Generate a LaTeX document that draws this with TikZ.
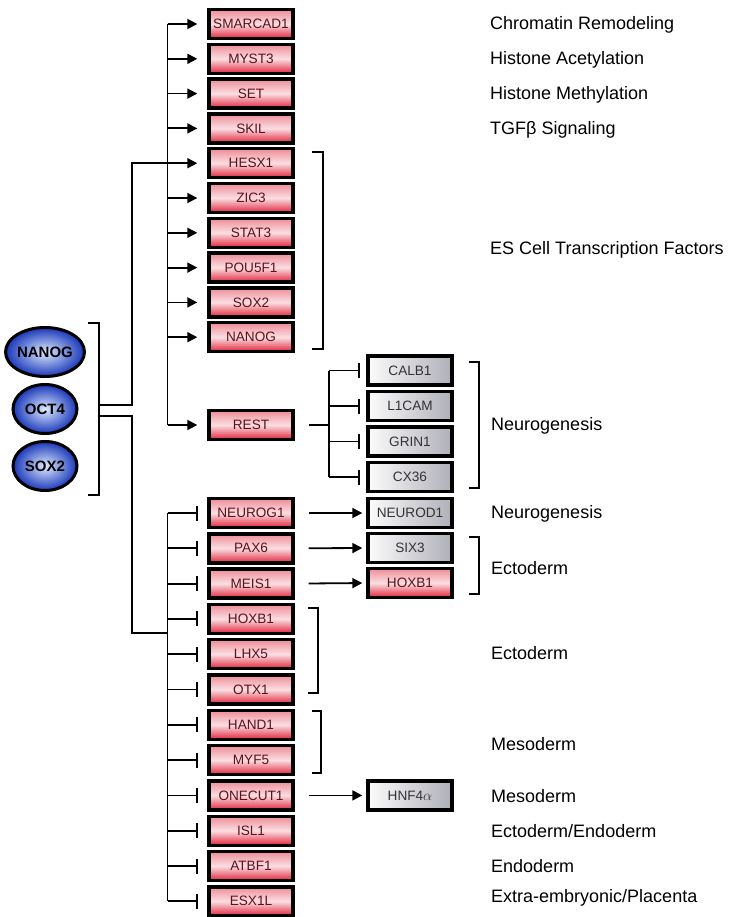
\documentclass[tikz,border=0pt]{standalone}
\usepackage{fontspec}
\setmainfont{Liberation Sans}
\usetikzlibrary{arrows.meta,shapes.geometric,calc}
\definecolor{redtop}{RGB}{238,140,150}
\definecolor{redmid}{RGB}{250,222,226}
\definecolor{redbot}{RGB}{226,36,58}
\definecolor{redtxt}{RGB}{90,18,28}
\definecolor{graylt}{RGB}{252,252,252}
\definecolor{graydk}{RGB}{175,175,184}
\definecolor{bluelt}{RGB}{222,234,255}
\definecolor{bluedk}{RGB}{25,55,185}
\tikzset{
  redbox/.style={draw=black, line width=3.4pt, minimum width=84pt, minimum height=29pt, inner sep=0pt,
    top color=redtop, bottom color=redbot, middle color=redmid,
    font=\fontsize{13.6}{15}\selectfont, text=redtxt},
  graybox/.style={draw=black, line width=3.4pt, minimum width=84pt, minimum height=29pt, inner sep=0pt,
    left color=graylt, right color=graydk, font=\fontsize{13.6}{15}\selectfont, text=black!80},
  tf/.style={ellipse, draw=black, line width=3pt, minimum width=64pt, minimum height=49pt, inner sep=0pt,
    inner color=bluelt, outer color=bluedk, font=\bfseries\fontsize{15}{17}\selectfont},
  lab/.style={anchor=west, font=\fontsize{18}{20}\selectfont, inner sep=0pt},
  conn/.style={line width=1.8pt},
  act/.style={conn, -{Triangle[length=10pt,width=10pt]}},
  inh/.style={conn, -{Bar[width=15pt,line width=2.2pt]}},
  brk/.style={line width=1.6pt},
}
\begin{document}
\begin{tikzpicture}[x=1pt,y=-1pt]
\useasboundingbox (0,0) rectangle (728,917);
% transcription factors
\node[tf] (nanog) at (45,352) {NANOG};
\node[tf] (oct4) at (45,409) {OCT4};
\node[tf] (sox2) at (45,466) {SOX2};
% upper red boxes
\node[redbox] (smarcad) at (251,24) {SMARCAD1};
\node[redbox] (myst) at (251,58.8) {MYST3};
\node[redbox] (set) at (251,93.6) {SET};
\node[redbox] (skil) at (251,128.4) {SKIL};
\node[redbox] (hesx) at (251,163.2) {HESX1};
\node[redbox] (zic) at (251,198) {ZIC3};
\node[redbox] (stat) at (251,232.8) {STAT3};
\node[redbox] (pou) at (251,267.6) {POU5F1};
\node[redbox] (soxb) at (251,302.4) {SOX2};
\node[redbox] (nanogb) at (251,337.2) {NANOG};
\node[redbox] (rest) at (251,425) {REST};
% lower red boxes
\node[redbox] (neurog) at (251,513) {NEUROG1};
\node[redbox] (pax) at (251,548.3) {PAX6};
\node[redbox] (meis) at (251,583.6) {MEIS1};
\node[redbox] (hoxa) at (251,618.9) {HOXB1};
\node[redbox] (lhx) at (251,654.2) {LHX5};
\node[redbox] (otx) at (251,689.5) {OTX1};
\node[redbox] (hand) at (251,724.8) {HAND1};
\node[redbox] (myf) at (251,760.1) {MYF5};
\node[redbox] (onecut) at (251,795.4) {ONECUT1};
\node[redbox] (isl) at (251,830.7) {ISL1};
\node[redbox] (atbf) at (251,866) {ATBF1};
\node[redbox] (esx) at (251,901.3) {ESX1L};
% right column
\node[graybox] (calb) at (410,370.5) {CALB1};
\node[graybox] (lcam) at (410,406) {L1CAM};
\node[graybox] (grin) at (410,441.5) {GRIN1};
\node[graybox] (cx) at (410,477) {CX36};
\node[graybox] (neurod) at (410,513) {NEUROD1};
\node[graybox] (six) at (410,548) {SIX3};
\node[redbox] (hoxc) at (410,583) {HOXB1};
\node[graybox] (hnf) at (410,795.4) {HNF4$\alpha$};
% coordinates
\coordinate (tU) at (167.5,0);
\coordinate (jx) at (132,0);
\coordinate (fu) at (99,405);
\coordinate (fl) at (99,416);
\coordinate (jl) at (0,633);
\coordinate (rx) at (329,0);
% bracket around TFs
\draw[brk] (88,323) -- (99,323) -- (99,495) -- (88,495);
% feeds
\draw[conn] (fu) -- (fu -| jx) -- (jx |- hesx) -- (tU |- hesx);
\draw[conn] (fl) -- (fl -| jx) -- (jx |- jl) -- (tU |- jl);
% upper trunk
\draw[conn] (tU |- smarcad) -- (tU |- rest);
\foreach \n in {smarcad,myst,set,skil,hesx,zic,stat,pou,soxb,nanogb,rest}
  \draw[act, shorten >=10pt] (tU |- \n) -- (\n.west);
% lower trunk
\draw[conn] (tU |- neurog) -- (tU |- esx);
\foreach \n in {neurog,pax,meis,hoxa,lhx,otx,hand,myf,onecut,isl,atbf,esx}
  \draw[inh, shorten >=9pt] (tU |- \n) -- (\n.west);
% REST branch
\draw[conn, shorten <=14pt] (rest.east) -- (rest.east -| rx);
\draw[conn] (rx |- calb) -- (rx |- cx);
\foreach \n in {calb,lcam,grin,cx}
  \draw[inh, shorten >=6pt] (rx |- \n) -- (\n.west);
% activation arrows to right column
\foreach \a/\b in {neurog/neurod,pax/six,meis/hoxc,onecut/hnf}
  \draw[act, shorten <=14pt, shorten >=4pt] (\a.east) -- (\b.west);
% brackets
\draw[brk] (312,152) -- (323,152) -- (323,349) -- (312,349);
\draw[brk] (469,362) -- (479,362) -- (479,488) -- (469,488);
\draw[brk] (469,537) -- (479,537) -- (479,594) -- (469,594);
\draw[brk] (308,608) -- (318,608) -- (318,693) -- (308,693);
\draw[brk] (312,711) -- (321,711) -- (321,773) -- (312,773);
% labels
\node[lab] (l1) at (490,25) {Chromatin Remodeling};
\node[lab] (l2) at (490,60) {Histone Acetylation};
\node[lab] (l3) at (490,95) {Histone Methylation};
\node[lab] (l4) at (490,130) {TGFβ Signaling};
\node[lab] (l5) at (490,250) {ES Cell Transcription Factors};
\node[lab] (l6) at (491,426) {Neurogenesis};
\node[lab] (l7) at (491,514) {Neurogenesis};
\node[lab] (l8) at (491,568) {Ectoderm};
\node[lab] (l9) at (491,653) {Ectoderm};
\node[lab] (l10) at (491,744) {Mesoderm};
\node[lab] (l11) at (491,796) {Mesoderm};
\node[lab] (l12) at (491,831) {Ectoderm/Endoderm};
\node[lab] (l13) at (491,866) {Endoderm};
\node[lab] (l14) at (491,898) {Extra-embryonic/Placenta};
\end{tikzpicture}
\end{document}
